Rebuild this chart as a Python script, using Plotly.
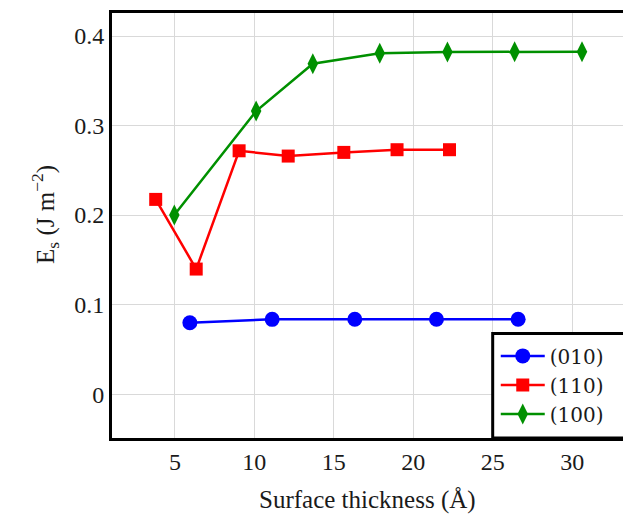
import plotly.graph_objects as go

x_010 = [5.94, 11.12, 16.32, 21.46, 26.6]
y_010 = [0.0797, 0.0835, 0.0837, 0.0837, 0.0837]

x_110 = [3.79, 6.34, 9.04, 12.13, 15.63, 18.98, 22.28]
y_110 = [0.2175, 0.1397, 0.2718, 0.2659, 0.2700, 0.2730, 0.2730]

x_100 = [4.96, 10.11, 13.68, 17.89, 22.15, 26.38, 30.62]
y_100 = [0.2000, 0.3162, 0.3690, 0.3807, 0.3821, 0.3825, 0.3825]

names = ["(010)", "(110)", "(100)"]
x_ticks = [5, 10, 15, 20, 25, 30]
y_ticks = [0, 0.1, 0.2, 0.3, 0.4]
y_tick_labels = ["0", "0.1", "0.2", "0.3", "0.4"]

FONT = "Liberation Serif"
LFONT = "DejaVu Serif"
TXT = "#1a1a1a"

fig = go.Figure()
fig.add_trace(go.Scatter(x=x_010, y=y_010, name=names[0], mode="lines+markers",
                         line=dict(color="#0000ff", width=2.5),
                         marker=dict(symbol="circle", size=15, color="#0000ff")))
fig.add_trace(go.Scatter(x=x_110, y=y_110, name=names[1], mode="lines+markers",
                         line=dict(color="#ff0000", width=2.5),
                         marker=dict(symbol="square", size=13, color="#ff0000")))
fig.add_trace(go.Scatter(x=x_100, y=y_100, name=names[2], mode="lines+markers",
                         line=dict(color="#009000", width=2.5),
                         marker=dict(symbol="diamond-tall", size=15, color="#009000")))

fig.update_layout(
    width=623, height=515,
    margin=dict(l=112, r=0, t=13, b=77, autoexpand=False),
    plot_bgcolor="white", paper_bgcolor="white",
    font=dict(family=FONT, size=24, color=TXT),
    showlegend=True,
    legend=dict(x=0.751, y=0.239, xanchor="left", yanchor="top",
                borderwidth=0, bgcolor="rgba(0,0,0,0)",
                font=dict(family=LFONT, size=20, color=TXT),
                itemwidth=44, tracegroupgap=0),
    shapes=[dict(type="rect", xref="paper", yref="paper",
                 x0=0.745, x1=1.1, y0=0, y1=0.246, layer="above",
                 line=dict(color="black", width=3), fillcolor="white")],
    xaxis=dict(range=[1.04, 33.2], tickvals=x_ticks, showgrid=True,
               gridcolor="#d9d9d9", gridwidth=1, zeroline=False,
               showline=True, linecolor="black", linewidth=3, mirror=True,
               ticks="", tickfont=dict(family=FONT, size=24, color=TXT)),
    yaxis=dict(range=[-0.049, 0.4257], tickvals=y_ticks, ticktext=y_tick_labels,
               showgrid=True, gridcolor="#d9d9d9", gridwidth=1, zeroline=False,
               showline=True, linecolor="black", linewidth=3, mirror=False,
               ticks="", tickfont=dict(family=FONT, size=24, color=TXT)),
    annotations=[
        dict(text="Surface thickness (Å)", xref="paper", yref="paper",
             x=0.5, y=-0.146, xanchor="center", yanchor="middle",
             showarrow=False, font=dict(family=FONT, size=25, color=TXT)),
        dict(text="E<sub>s</sub> (J m<sup>−2</sup>)", xref="paper", yref="paper",
             x=-0.131, y=0.525, xanchor="center", yanchor="middle", textangle=-90,
             showarrow=False, font=dict(family=FONT, size=25, color=TXT)),
    ],
)

fig.write_html("out.html", config={"displayModeBar": False},
               post_script="document.body.style.margin='0';document.body.style.overflow='hidden';")
